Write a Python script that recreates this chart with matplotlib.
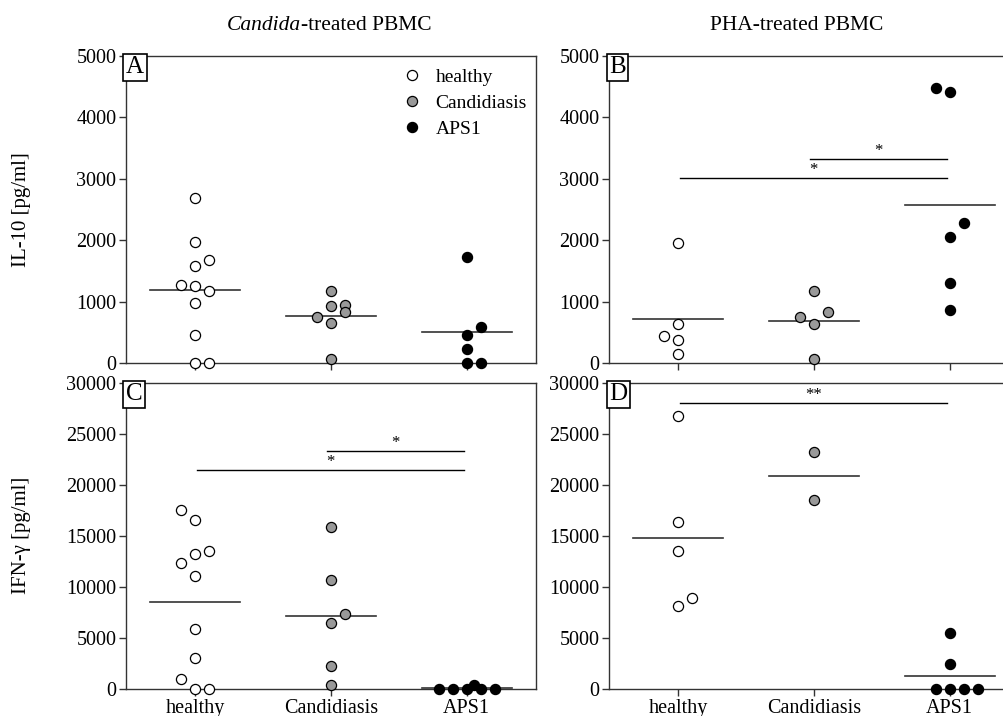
import numpy as np
import matplotlib.pyplot as plt

plt.rcParams['font.family'] = ['Liberation Serif', 'DejaVu Serif']

groups = ["healthy", "Candidiasis", "APS1"]
fills = ["white", "#999999", "black"]

# IL-10, Candida-treated (panel A)
a_healthy = [2689, 1967, 1678, 1585, 1273, 1257, 1175, 984, 448, 0, 0]
a_cand = [1180, 934, 945, 836, 754, 645, 60]
a_aps = [1727, 585, 464, 230, 0, 0]

# IL-10, PHA-treated (panel B)
b_healthy = [1961, 637, 447, 381, 147]
b_cand = [1171, 828, 752, 643, 65]
b_aps = [4483, 4412, 2288, 2059, 1307, 861]

# IFN-g, Candida-treated (panel C)
c_healthy = [17580, 16570, 13570, 13210, 12330, 11120, 5900, 3000, 980, 0, 0]
c_cand = [15850, 10730, 7370, 6490, 2280, 360]
c_aps = [0, 0, 0, 400, 0, 0]

# IFN-g, PHA-treated (panel D)
d_healthy = [26800, 16340, 13530, 8970, 8150]
d_cand = [23280, 18520]
d_aps = [5480, 2450, 0, 0, 0, 0]

# horizontal slot of each point (scatter layout, in marker widths)
a_slots = [[0, 0, 1, 0, -1, 0, 1, 0, 0, 0, 1], [0, 0, 1, 1, -1, 0, 0], [0, 1, 0, 0, 0, 1]]
b_slots = [[0, 0, -1, 0, 0], [0, 1, -1, 0, 0], [-1, 0, 1, 0, 0, 0]]
c_slots = [[-1, 0, 1, 0, -1, 0, 0, 0, -1, 0, 1], [0, 0, 1, 0, 0, 0], [-2, -1, 0, 0.5, 1, 2]]
d_slots = [[0, 0, 0, 1, 0], [0, 0], [0, 0, -1, 0, 1, 2]]

# significance bars: (x start, x end, y, label)
a_sig = []
b_sig = [(0.97, 1.98, 3330, "*"), (0.01, 1.98, 3020, "*")]
c_sig = [(0.97, 1.98, 23300, "*"), (0.01, 1.98, 21450, "*")]
d_sig = [(0.01, 1.98, 28000, "**")]

STEP = 0.103

fig = plt.figure(figsize=(10.04, 7.16), dpi=100)
W, H = 1004, 716


def make_ax(left, top, right, bottom):
    return fig.add_axes([left / W, 1 - bottom / H, (right - left) / W, (bottom - top) / H])


axA = make_ax(126, 56, 536, 363)
axB = make_ax(609, 56, 1019, 363)
axC = make_ax(126, 383, 536, 689)
axD = make_ax(609, 383, 1019, 689)

panels = [
    (axA, "A", [a_healthy, a_cand, a_aps], a_slots, a_sig, 5000, 1000),
    (axB, "B", [b_healthy, b_cand, b_aps], b_slots, b_sig, 5000, 1000),
    (axC, "C", [c_healthy, c_cand, c_aps], c_slots, c_sig, 30000, 5000),
    (axD, "D", [d_healthy, d_cand, d_aps], d_slots, d_sig, 30000, 5000),
]

for ax, letter, data, slots, sigs, ymax, ystep in panels:
    for i, (vals, sl) in enumerate(zip(data, slots)):
        xs = i + STEP * np.array(sl)
        ax.plot(xs, vals, 'o', ms=7.3, mfc=fills[i], mec='black', mew=0.9,
                zorder=4, clip_on=False, label=groups[i])
        m = np.mean(vals)
        ax.plot([i - 0.33, i + 0.33], [m, m], color='#333333', lw=1.2, zorder=3)
    for x0, x1, y, lab in sigs:
        ax.plot([x0, x1], [y, y], color='black', lw=1)
        ax.text((x0 + x1) / 2, y, lab, ha='center', va='bottom', fontsize=12)
    ax.set_xlim(-0.51, 2.51)
    ax.set_ylim(0, ymax)
    ax.set_yticks(np.arange(0, ymax + 1, ystep))
    ax.set_xticks(range(3))
    for s in ax.spines.values():
        s.set_color('#333333')
        s.set_linewidth(1)
    ax.tick_params(direction='out', length=5, width=1, color='#333333',
                   labelsize=14.5, pad=2)
    ax.text(0, 1, letter, transform=ax.transAxes, ha='left', va='top',
            fontsize=18, zorder=6,
            bbox=dict(boxstyle='square,pad=0.1', fc='white', ec='black', lw=1.2))

axA.set_xticklabels([])
axB.set_xticklabels([])
axC.set_xticklabels(groups)
axD.set_xticklabels(groups)

axA.legend(loc='upper left', bbox_to_anchor=(0.655, 0.985), frameon=False,
           fontsize=14, handletextpad=0.7, labelspacing=0.42,
           borderaxespad=0, handlelength=1.0)

fig.text(22 / W, 1 - 210 / H, "IL-10 [pg/ml]", rotation=90, ha='center',
         va='center', fontsize=15)
fig.text(22 / W, 1 - 535 / H, "IFN-\u03b3 [pg/ml]", rotation=90, ha='center',
         va='center', fontsize=15)

fig.text(301 / W, 1 - 25 / H, "Candida", style='italic', ha='right',
         va='center', fontsize=15.5)
fig.text(301 / W, 1 - 25 / H, "-treated PBMC", ha='left', va='center', fontsize=15.5)
fig.text(797 / W, 1 - 25 / H, "PHA-treated PBMC", ha='center', va='center', fontsize=15.5)

fig.savefig("out.png", dpi=100)
